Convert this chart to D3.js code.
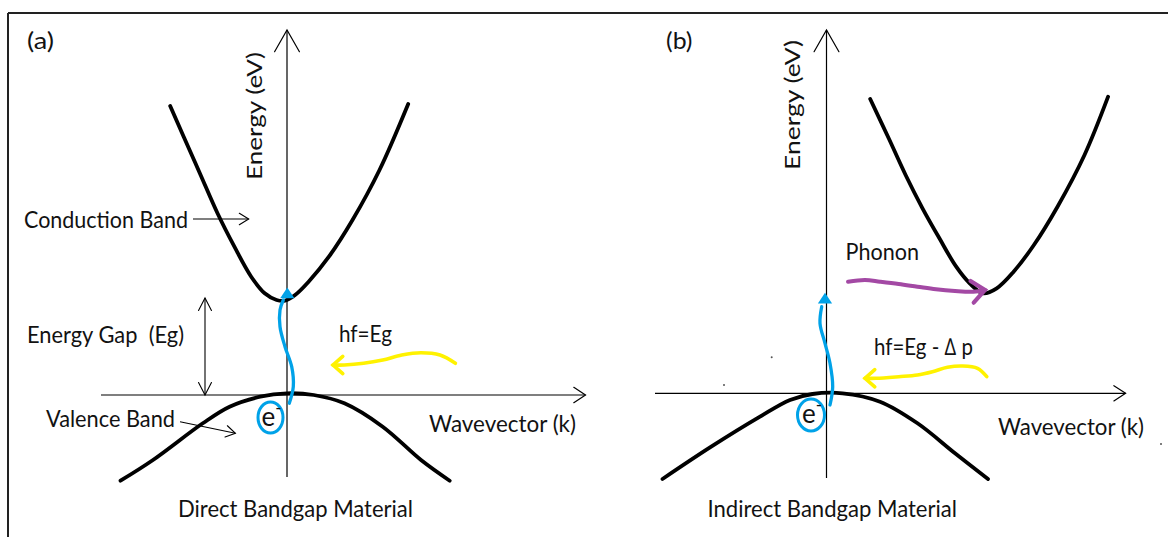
<!DOCTYPE html>
<html>
<head>
<meta charset="utf-8">
<script src="https://cdn.jsdelivr.net/npm/d3@7"></script>
<style>
body{margin:0;background:#fff}
svg{display:block}
text{font-family:Lato,"Open Sans",sans-serif;fill:#121212}
</style>
</head>
<body>
<svg id="chart" width="1168" height="537"></svg>
<script>
// band curves as [k, E] (k and E in arbitrary units, gap ~ 1)
const directConduction = [[-1.168,2.89],[-1.033,2.583],[-0.864,2.20],[-0.695,1.817],[-0.526,1.483],[-0.358,1.183],
    [-0.223,1.017],[-0.104,0.95],[-0.02,0.943],[0.081,1.0],[0.216,1.133],[0.419,1.383],[0.655,1.75],[0.925,2.25],[1.212,2.91]];
const directValence = [[-1.665,-0.857],[-1.34,-0.65],[-0.842,-0.283],[-0.574,-0.117],[-0.268,-0.017],[0,0.017],
    [0.268,0],[0.574,-0.083],[0.957,-0.317],[1.34,-0.65],[1.627,-0.857]];
const indirectConduction = [[0.437,2.943],[0.622,2.55],[0.791,2.183],[0.96,1.85],[1.129,1.55],[1.297,1.266],[1.432,1.1],
    [1.567,1.0],[1.702,1.05],[1.871,1.216],[2.074,1.483],[2.31,1.866],[2.58,2.383],[2.816,2.966]];
const indirectValence = [[-1.64,-0.857],[-1.153,-0.534],[-0.665,-0.234],[-0.365,-0.067],[-0.14,-0.007],[0.16,0],
    [0.535,-0.084],[0.91,-0.3],[1.285,-0.6],[1.615,-0.857]];

// hand drawn transitions, last point is the arrow tip
const directElectron = [[0.023,-0.083],[0.063,0.083],[0.047,0.283],[-0.02,0.483],[-0.07,0.683],[-0.07,0.85],[-0.037,0.95],[0.003,1.075]];
const indirectElectron = [[0.035,-0.117],[0.062,0.066],[0.035,0.3],[-0.015,0.5],[-0.065,0.7],[-0.048,0.866],[-0.015,1.006]];
const directPhoton = [[1.684,0.317],[1.53,0.4],[1.34,0.423],[1.148,0.4],[0.957,0.35],[0.766,0.317],[0.574,0.3],[0.46,0.3]];
const indirectPhoton = [[1.603,0.166],[1.51,0.25],[1.36,0.273],[1.21,0.26],[1.06,0.216],[0.91,0.183],[0.722,0.166],[0.495,0.15],[0.385,0.15]];
const phonon = [[0.215,1.116],[0.385,1.133],[0.535,1.116],[0.722,1.093],[0.91,1.066],[1.095,1.04],[1.285,1.023],[1.468,1.016],[1.585,1.033]];

// electron marker [k, E] and the gap
const electronAt = [[-0.165,-0.225],[-0.155,-0.217]];
const gapK = -0.82, gapE = [0, 0.97];

// axis extents, [min, max]
const axisK = [[-1.86,2.985],[-1.715,2.991]];
const axisE = [[-0.82,3.65],[-0.847,3.633]];

// label pointers [from, to]
const conductionPointer = [[-0.94,1.76],[-0.383,1.76]];
const valencePointer = [[-1.07,-0.267],[-0.516,-0.383]];

// stray specks in panel (b)
const specks = [[-0.548,0.36],[-1.025,0.083],[3.345,-0.507]];

// texts
const panelLabels = ['(a)','(b)'];
const titles = ['Direct Bandgap Material','Indirect Bandgap Material'];
const yTitle = 'Energy (eV)';
const xTitle = 'Wavevector (k)';
const photonLabels = ['hf=Eg','hf=Eg - \u2206 p'];

const BLUE='#00a2e8', YELLOW='#fff200', PURPLE='#a349a4';

const svg=d3.select('#chart');

// frame of the original picture
svg.append('line').attr('x1',8).attr('x2',1168).attr('y1',13).attr('y2',13).attr('stroke','#222').attr('stroke-width',2);
svg.append('line').attr('x1',8).attr('x2',8).attr('y1',13).attr('y2',537).attr('stroke','#222').attr('stroke-width',2);

function head(g,p0,p1,len,ang,open,color,w){
    const a=Math.atan2(p1[1]-p0[1],p1[0]-p0[0]);
    const w1=[p1[0]-len*Math.cos(a-ang),p1[1]-len*Math.sin(a-ang)];
    const w2=[p1[0]-len*Math.cos(a+ang),p1[1]-len*Math.sin(a+ang)];
    const p=g.append('path').attr('d',`M${w1}L${p1}L${w2}`+(open?'':'Z'));
    if(open) p.attr('fill','none').attr('stroke',color).attr('stroke-width',w).attr('stroke-linecap','round');
    else p.attr('fill',color);
}

function label(x,y,txt,width,size){
    return svg.append('text').attr('x',x).attr('y',y).attr('font-size',size||23.5)
        .attr('textLength',width).attr('lengthAdjust','spacingAndGlyphs')
        .style('white-space','pre').text(txt);
}

function panel(i,origin,cond,val,electron,photon){
    const x=d3.scaleLinear().domain([0,1]).range([origin[0],origin[0]+100]);
    const y=d3.scaleLinear().domain([0,1]).range([origin[1],origin[1]-100]);
    const P=d=>[x(d[0]),y(d[1])];
    const g=svg.append('g');
    const line=d3.line().x(d=>x(d[0])).y(d=>y(d[1])).curve(d3.curveCatmullRom);

    // axes
    const ax=[x(axisK[i][0]),x(axisK[i][1])], ay=[y(axisE[i][0]),y(axisE[i][1])];
    g.append('line').attr('x1',ax[0]).attr('x2',ax[1]).attr('y1',y(0)).attr('y2',y(0)).attr('stroke','#000').attr('stroke-width',1.2);
    g.append('line').attr('x1',x(0)).attr('x2',x(0)).attr('y1',ay[0]).attr('y2',ay[1]).attr('stroke','#000').attr('stroke-width',1.2);
    head(g,[ax[0],y(0)],[ax[1],y(0)],14,0.58,true,'#000',1.2);
    head(g,[x(0),ay[0]],[x(0),ay[1]],25,0.52,true,'#000',1.2);

    // bands
    [cond,val].forEach(d=>g.append('path').attr('d',line(d)).attr('fill','none')
        .attr('stroke','#000').attr('stroke-width',3.8).attr('stroke-linecap','round'));

    // photon
    g.append('path').attr('d',line(photon)).attr('fill','none').attr('stroke',YELLOW)
        .attr('stroke-width',3.6).attr('stroke-linecap','round');
    head(g,P(photon[photon.length-2]),P(photon[photon.length-1]),13,0.72,true,YELLOW,3.6);

    // electron excitation
    g.append('path').attr('d',line(electron.slice(0,-1))).attr('fill','none').attr('stroke',BLUE)
        .attr('stroke-width',3.3).attr('stroke-linecap','round');
    const tip=P(electron[electron.length-1]);
    head(g,[tip[0],tip[1]+20],tip,13,0.58,false,BLUE);

    // electron
    const c=P(electronAt[i]);
    g.append('ellipse').attr('cx',c[0]).attr('cy',c[1]).attr('rx',i?13.5:12.5).attr('ry',i?16:15.5)
        .attr('fill','none').attr('stroke',BLUE).attr('stroke-width',3);
    const t=g.append('text').attr('x',c[0]-9).attr('y',c[1]+8).attr('font-size',26);
    t.append('tspan').text('e');
    t.append('tspan').attr('font-size',17).attr('dy',-12).text('-');

    // y axis title
    svg.append('text').attr('transform',`translate(${x(0)-(i?26.5:25)},${i?170:180}) rotate(-90)`)
        .attr('font-size',21).attr('textLength',i?130:128).attr('lengthAdjust','spacingAndGlyphs').text(yTitle);
    return {x,y,P,g};
}

const a=panel(0,[287,395],directConduction,directValence,directElectron,directPhoton);
const b=panel(1,[826.5,393.3],indirectConduction,indirectValence,indirectElectron,indirectPhoton);

// energy gap double arrow
const g0=a.P([gapK,gapE[0]]), g1=a.P([gapK,gapE[1]]);
a.g.append('line').attr('x1',g0[0]).attr('x2',g1[0]).attr('y1',g0[1]).attr('y2',g1[1]).attr('stroke','#000').attr('stroke-width',1.1);
head(a.g,g0,g1,14,0.48,true,'#000',1.1);
head(a.g,g1,g0,14,0.48,true,'#000',1.1);

// label pointers
[conductionPointer,valencePointer].forEach(p=>{
    const s=a.P(p[0]), e=a.P(p[1]);
    a.g.append('line').attr('x1',s[0]).attr('x2',e[0]).attr('y1',s[1]).attr('y2',e[1]).attr('stroke','#000').attr('stroke-width',1.1);
    head(a.g,s,e,11,0.55,true,'#000',1.1);
});

// phonon arrow
b.g.append('path').attr('d',d3.line().x(d=>b.x(d[0])).y(d=>b.y(d[1])).curve(d3.curveCatmullRom)(phonon))
    .attr('fill','none').attr('stroke',PURPLE).attr('stroke-width',4).attr('stroke-linecap','round');
head(b.g,b.P(phonon[phonon.length-2]),b.P(phonon[phonon.length-1]),17,0.7,true,PURPLE,4.2);

b.g.selectAll('circle.speck').data(specks).join('circle').attr('class','speck')
    .attr('cx',d=>b.x(d[0])).attr('cy',d=>b.y(d[1])).attr('r',1).attr('fill','#555');

// panel (a) texts
label(27,49,panelLabels[0],27);
label(24,228,'Conduction Band',164);
label(27,343,'Energy Gap  (Eg)',157);
label(339,342,photonLabels[0],53);
label(46,427,'Valence Band',129);
label(429,432,xTitle,147);
label(178,517,titles[0],235);

// panel (b) texts
label(666,49,panelLabels[1],26.5);
label(845.5,260,'Phonon',73.5);
label(874,355,photonLabels[1],99);
label(998,435,xTitle,146);
label(707.5,517,titles[1],249.5);
</script>
</body>
</html>
